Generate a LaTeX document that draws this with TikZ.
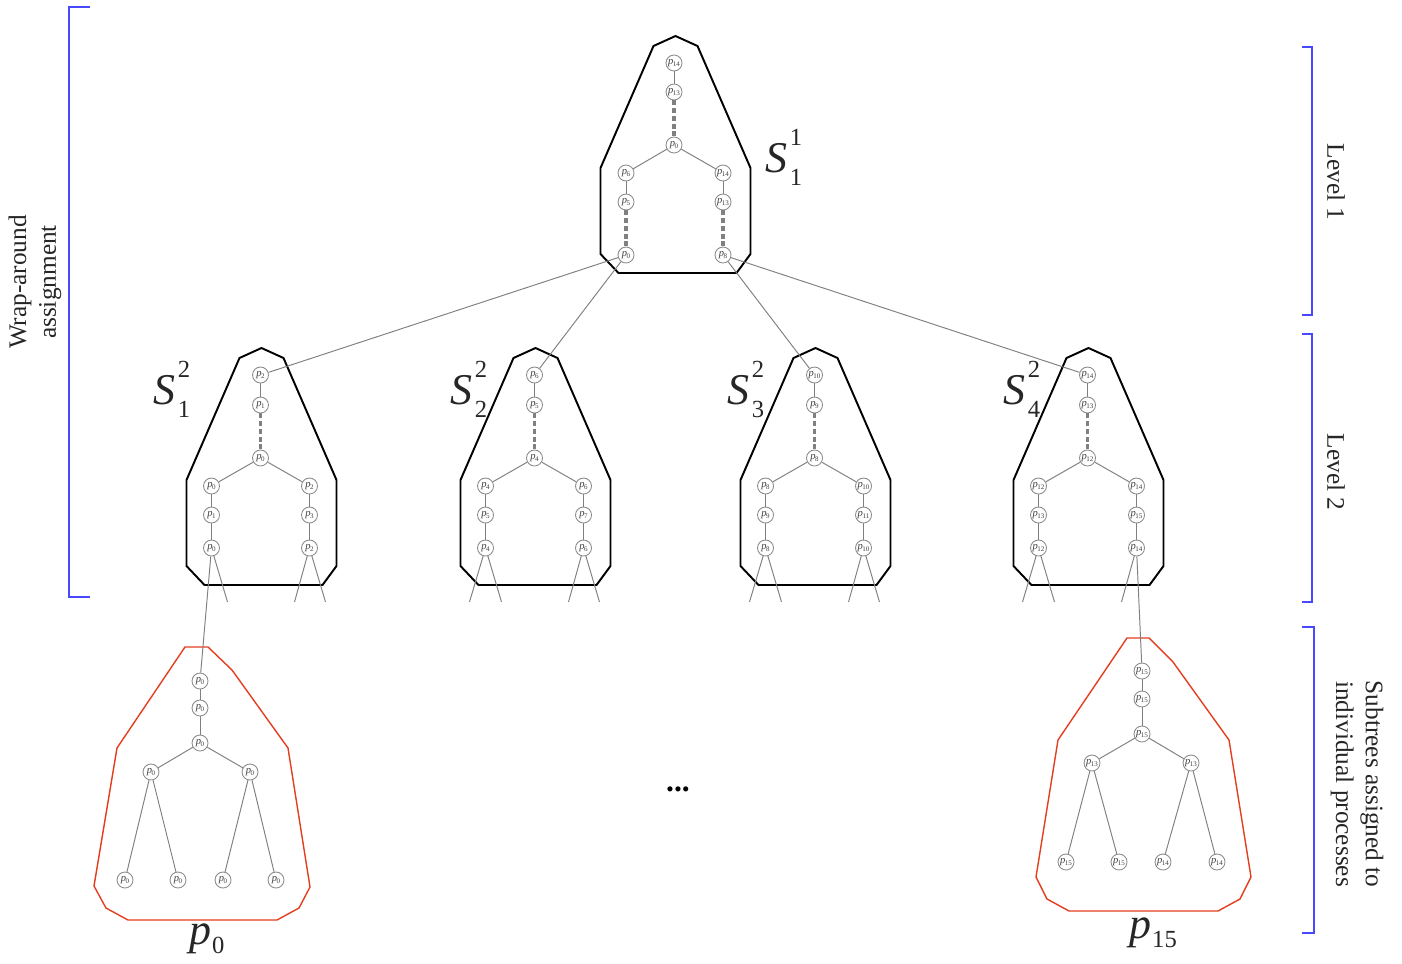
\documentclass[tikz,border=0pt]{standalone}
\usepackage{fontspec}
\setmainfont{Liberation Serif}
\usetikzlibrary{calc}
\definecolor{redc}{RGB}{228,62,32}
\definecolor{bluec}{RGB}{72,72,255}
\definecolor{edgec}{RGB}{128,128,128}
\definecolor{nodec}{RGB}{140,140,140}
\newcommand{\pn}[1]{\textit{p}\kern-0.2pt\raisebox{-0.35ex}{\fontsize{4}{4}\selectfont #1}}
\newcommand{\SLab}[2]{\textit{S}\kern1.5pt\rlap{\raisebox{0.6em}{\fontsize{14}{14}\selectfont #1}}\raisebox{-0.3em}{\fontsize{14}{14}\selectfont #2}}
\newcommand{\PLab}[1]{\textit{p}\kern0.5pt\raisebox{-0.22em}{\fontsize{14}{14}\selectfont #1}}
\tikzset{
  pnode/.style={circle,draw=nodec,line width=0.5pt,inner sep=0pt,minimum size=0.32cm,
    font=\fontsize{6}{6}\selectfont,text=black!75},
  tedge/.style={draw=edgec,line width=0.55pt},
  dedge/.style={draw=edgec,line width=1.9pt,dash pattern=on 2.8pt off 1.6pt},
  sbox/.style={draw=black,line width=1.1pt,line join=miter},
  rbox/.style={draw=redc,line width=0.8pt},
  brk/.style={draw=bluec,line width=0.6pt},
  side/.style={font=\fontsize{14.4}{17}\selectfont,align=center,text=black!85},
  biglab/.style={font=\fontsize{25}{27}\selectfont,inner sep=0pt,text=black!85}
}
\begin{document}
\begin{tikzpicture}[x=0.02cm,y=-0.02cm]
\useasboundingbox (0,0) rectangle (1402,963);

% ---------- Level 1 box ----------
\begin{scope}[shift={(675.5,36)}]
  \draw[sbox] (-22,10) -- (0,0) -- (22,10) -- (75,132) -- (75,218) -- (61,237) -- (-57,237) -- (-75,218) -- (-75,132) -- cycle;
  \node[pnode] (T-t)  at (-1.5,27)  {\pn{14}};
  \node[pnode] (T-t2) at (-1.5,56)  {\pn{13}};
  \node[pnode] (T-m)  at (-1.5,109) {\pn{0}};
  \node[pnode] (T-l1) at (-49.5,137) {\pn{6}};
  \node[pnode] (T-l2) at (-49.5,166) {\pn{5}};
  \node[pnode] (T-l3) at (-49.5,219) {\pn{0}};
  \node[pnode] (T-r1) at (47.5,137) {\pn{14}};
  \node[pnode] (T-r2) at (47.5,166) {\pn{13}};
  \node[pnode] (T-r3) at (47.5,219) {\pn{8}};
\end{scope}
\draw[tedge] (T-t) -- (T-t2);
\draw[dedge] (T-t2) -- (T-m);
\draw[tedge] (T-m) -- (T-l1);
\draw[tedge] (T-m) -- (T-r1);
\draw[tedge] (T-l1) -- (T-l2);
\draw[dedge] (T-l2) -- (T-l3);
\draw[tedge] (T-r1) -- (T-r2);
\draw[dedge] (T-r2) -- (T-r3);
\node[biglab,anchor=base west] (labT) at (765,172) {\SLab{1}{1}};

% ---------- Level 2 boxes ----------
\foreach \k/\cx/\b in {1/261.5/0, 2/535.5/4, 3/815.5/8, 4/1088.5/12} {
  \pgfmathtruncatemacro\bA{\b+1}
  \pgfmathtruncatemacro\bB{\b+2}
  \pgfmathtruncatemacro\bC{\b+3}
  \begin{scope}[shift={(\cx,348)}]
    \draw[sbox] (-22,10) -- (0,0) -- (22,10) -- (75,132) -- (75,218) -- (61,237) -- (-57,237) -- (-75,218) -- (-75,132) -- cycle;
    \node[pnode] (s\k-t)  at (-1,27)  {\pn{\bB}};
    \node[pnode] (s\k-t2) at (-1,57)  {\pn{\bA}};
    \node[pnode] (s\k-m)  at (-1,110) {\pn{\b}};
    \node[pnode] (s\k-l1) at (-50,138) {\pn{\b}};
    \node[pnode] (s\k-l2) at (-50,167) {\pn{\bA}};
    \node[pnode] (s\k-l3) at (-50,200) {\pn{\b}};
    \node[pnode] (s\k-r1) at (48,138) {\pn{\bB}};
    \node[pnode] (s\k-r2) at (48,167) {\pn{\bC}};
    \node[pnode] (s\k-r3) at (48,200) {\pn{\bB}};
    \coordinate (s\k-d1) at (-66,254);
    \coordinate (s\k-d2) at (-34,254);
    \coordinate (s\k-d3) at (33,254);
    \coordinate (s\k-d4) at (64,254);
  \end{scope}
  \draw[tedge] (s\k-t) -- (s\k-t2);
  \draw[dedge] (s\k-t2) -- (s\k-m);
  \draw[tedge] (s\k-m) -- (s\k-l1);
  \draw[tedge] (s\k-m) -- (s\k-r1);
  \draw[tedge] (s\k-l1) -- (s\k-l2);
  \draw[tedge] (s\k-l2) -- (s\k-l3);
  \draw[tedge] (s\k-r1) -- (s\k-r2);
  \draw[tedge] (s\k-r2) -- (s\k-r3);
  \ifnum\k=1\else\draw[tedge] (s\k-l3) -- (s\k-d1);\fi
  \draw[tedge] (s\k-l3) -- (s\k-d2);
  \draw[tedge] (s\k-r3) -- (s\k-d3);
  \ifnum\k=4\else\draw[tedge] (s\k-r3) -- (s\k-d4);\fi
}
\node[biglab,anchor=base west] (lab1) at (153,404) {\SLab{2}{1}};
\node[biglab,anchor=base west] (lab2) at (450,404) {\SLab{2}{2}};
\node[biglab,anchor=base west] (lab3) at (727,404) {\SLab{2}{3}};
\node[biglab,anchor=base west] (lab4) at (1003,404) {\SLab{2}{4}};

% connectors level 1 -> level 2
\draw[tedge] (T-l3) -- (s1-t);
\draw[tedge] (T-l3) -- (s2-t);
\draw[tedge] (T-r3) -- (s3-t);
\draw[tedge] (T-r3) -- (s4-t);

% ---------- red subtree p0 ----------
\draw[rbox] (185,647) -- (208,647) -- (232,670) -- (288,748) -- (310,887) -- (299,908) -- (277,920) -- (128,920) -- (106,908) -- (94,886) -- (117,748) -- cycle;
\node[pnode] (a1) at (200,681) {\pn{0}};
\node[pnode] (a2) at (200,708) {\pn{0}};
\node[pnode] (a3) at (200,743) {\pn{0}};
\node[pnode] (al) at (151,772) {\pn{0}};
\node[pnode] (ar) at (250,772) {\pn{0}};
\node[pnode] (a4) at (125,880) {\pn{0}};
\node[pnode] (a5) at (178,880) {\pn{0}};
\node[pnode] (a6) at (223,880) {\pn{0}};
\node[pnode] (a7) at (276,880) {\pn{0}};
\draw[tedge] (a1) -- (a2);
\draw[tedge] (a2) -- (a3);
\draw[tedge] (a3) -- (al);
\draw[tedge] (a3) -- (ar);
\draw[tedge] (al) -- (a4);
\draw[tedge] (al) -- (a5);
\draw[tedge] (ar) -- (a6);
\draw[tedge] (ar) -- (a7);
\draw[tedge] (s1-l3) -- (a1);
\node[biglab,anchor=base west] (labp0) at (189,944) {\PLab{0}};

% ---------- red subtree p15 ----------
\draw[rbox] (1127,638) -- (1149,638) -- (1173,662) -- (1229,740) -- (1251,877) -- (1240,899) -- (1218,911) -- (1069,911) -- (1047,899) -- (1036,877) -- (1058,740) -- cycle;
\node[pnode] (b1) at (1142,671) {\pn{15}};
\node[pnode] (b2) at (1142,699) {\pn{15}};
\node[pnode] (b3) at (1142,734) {\pn{15}};
\node[pnode] (bl) at (1092,763) {\pn{13}};
\node[pnode] (br) at (1191,763) {\pn{13}};
\node[pnode] (b4) at (1066,862) {\pn{15}};
\node[pnode] (b5) at (1119,862) {\pn{15}};
\node[pnode] (b6) at (1163,862) {\pn{14}};
\node[pnode] (b7) at (1217,862) {\pn{14}};
\draw[tedge] (b1) -- (b2);
\draw[tedge] (b2) -- (b3);
\draw[tedge] (b3) -- (bl);
\draw[tedge] (b3) -- (br);
\draw[tedge] (bl) -- (b4);
\draw[tedge] (bl) -- (b5);
\draw[tedge] (br) -- (b6);
\draw[tedge] (br) -- (b7);
\draw[tedge] (s4-r3) -- (b1);
\node[biglab,anchor=base west] (labp15) at (1129,938) {\PLab{15}};

% ellipsis
\node[font=\fontsize{18}{20}\selectfont\bfseries] (dots) at (678,789) {...};

% ---------- brackets ----------
\draw[brk] (90,7) -- (69,7) -- (69,597) -- (90,597);
\node[side,rotate=90] (wrap) at (35,282) {Wrap-around\\assignment};
\draw[brk] (1302,47) -- (1312,47) -- (1312,315) -- (1302,315);
\node[side,rotate=-90] (lev1) at (1336,182) {Level 1};
\draw[brk] (1302,334) -- (1312,334) -- (1312,602) -- (1302,602);
\node[side,rotate=-90] (lev2) at (1336,472) {Level 2};
\draw[brk] (1302,627) -- (1314,627) -- (1314,933) -- (1302,933);
\node[side,rotate=-90] (sub) at (1357,784) {Subtrees assigned to\\individual processes};
\end{tikzpicture}
\end{document}
